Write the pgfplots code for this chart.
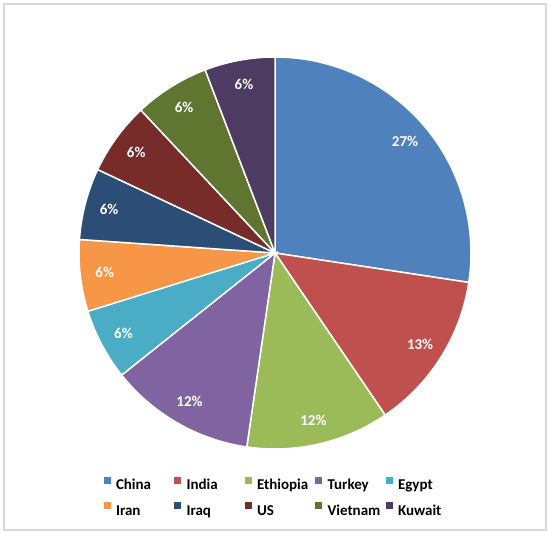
\documentclass[border=0pt]{standalone}
\usepackage{pgfplots}
\pgfplotsset{compat=1.18}
\usepackage{fontspec}
\setmainfont{Carlito}

\definecolor{cChina}{HTML}{4F81BD}
\definecolor{cIndia}{HTML}{C0504D}
\definecolor{cEthiopia}{HTML}{9BBB59}
\definecolor{cTurkey}{HTML}{8064A2}
\definecolor{cEgypt}{HTML}{4BACC6}
\definecolor{cIran}{HTML}{F79646}
\definecolor{cIraq}{HTML}{2C4D75}
\definecolor{cUS}{HTML}{772C2A}
\definecolor{cVietnam}{HTML}{5F7530}
\definecolor{cKuwait}{HTML}{4D3B62}
\definecolor{frameC}{HTML}{D9D9D9}

\newcommand\lblfont{\fontsize{15bp}{18bp}\selectfont\bfseries}

% slices go clockwise from 12 o'clock
\def\angA{90}
% #1 share (%), #2 colour, #3 name, #4 shown label
\newcommand\pieslice[4]{%
  \pgfmathsetmacro\angB{\angA-3.6*#1}%
  \pgfmathsetmacro\angM{(\angA+\angB)/2}%
  \pgfmathsetmacro\lx{0.875*cos(\angM)}%
  \pgfmathsetmacro\ly{0.875*sin(\angM)}%
  \edef\doslice{%
    \noexpand\addplot[fill=#2, draw=white, line width=1.5bp,
      domain=\angB:\angA, samples=90, variable=\noexpand\t]
      ({cos(\noexpand\t)}, {sin(\noexpand\t)}) -- (axis cs:0,0) -- cycle;
    \noexpand\addlegendentry{\noexpand\makebox[58bp][l]{#3}}
    \noexpand\node[font=\noexpand\lblfont, text=white] at (axis cs:\lx,\ly) {#4\noexpand\%};
  }%
  \doslice
  \global\let\angA\angB
}

\begin{document}
\begin{tikzpicture}
\begin{axis}[
  x=196bp, y=196bp,
  xmin=-1.40306, xmax=1.40306,
  ymin=-1.43878, ymax=1.29082,
  hide axis, clip=false,
  legend columns=5,
  legend image code/.code={\fill[#1, draw=none] (0bp,2.5bp) rectangle (7bp,9.5bp);},
  legend style={
    at={(axis cs:-0.8750,-1.14133)}, anchor=north west,
    draw=none, fill=none, inner sep=0pt, outer sep=0pt,
    column sep=0pt, row sep=8.5bp,
    font=\fontsize{15bp}{18bp}\selectfont\bfseries,
    nodes={inner sep=0pt, text height=11bp, text depth=3.5bp},
    /tikz/every odd column/.append style={column sep=5.5bp},
    /tikz/every even column/.append style={column sep=0pt},
  },
  legend cell align=left,
]
\path (rel axis cs:0,0) rectangle (rel axis cs:1,1);
\draw[color=frameC, line width=1.2bp] (axis cs:-1.38265,1.27041) rectangle (axis cs:1.38265,-1.41327);

\pieslice{27.4}{cChina}{China}{27}
\pieslice{13.1}{cIndia}{India}{13}
\pieslice{11.8}{cEthiopia}{Ethiopia}{12}
\pieslice{12.0}{cTurkey}{Turkey}{12}
\pieslice{5.9}{cEgypt}{Egypt}{6}
\pieslice{5.9}{cIran}{Iran}{6}
\pieslice{5.9}{cIraq}{Iraq}{6}
\pieslice{6.0}{cUS}{US}{6}
\pieslice{6.2}{cVietnam}{Vietnam}{6}
\pieslice{5.8}{cKuwait}{Kuwait}{6}
\end{axis}
\end{tikzpicture}
\end{document}
